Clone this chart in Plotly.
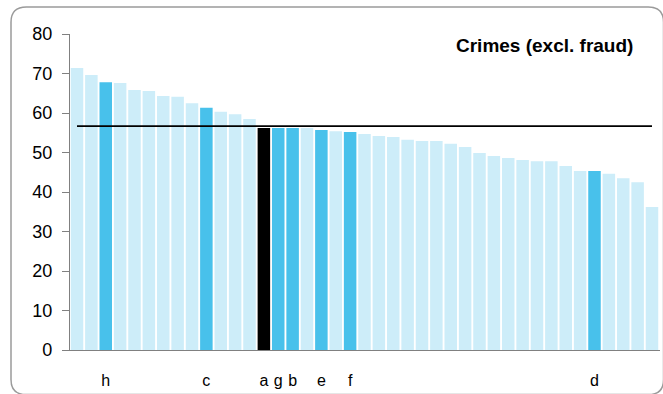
import plotly.graph_objects as go

# bar values, sorted descending
values = [71.4, 69.6, 67.8, 67.6, 65.8, 65.6, 64.3, 64.1, 62.5, 61.3,
          60.3, 59.7, 58.5, 56.2, 56.2, 56.2, 56.2, 55.7, 55.4, 55.2,
          54.7, 54.2, 53.9, 53.2, 52.9, 52.9, 52.2, 51.4, 49.9, 49.1,
          48.6, 48.1, 47.8, 47.8, 46.6, 45.3, 45.3, 44.6, 43.5, 42.5,
          36.2]
# group per bar: 0 = other, 1 = highlighted, 2 = reference country
groups = [0, 0, 1, 0, 0, 0, 0, 0, 0, 1,
          0, 0, 0, 2, 1, 1, 0, 1, 0, 1,
          0, 0, 0, 0, 0, 0, 0, 0, 0, 0,
          0, 0, 0, 0, 0, 0, 1, 0, 0, 0,
          0]
labels = ["", "", "h", "", "", "", "", "", "", "c",
          "", "", "", "a", "g", "b", "", "e", "", "f",
          "", "", "", "", "", "", "", "", "", "",
          "", "", "", "", "", "", "d", "", "", "",
          ""]
average = 56.7
title = "Crimes (excl. fraud)"

palette = {0: "#CDEDF9", 1: "#48C1EB", 2: "#000000"}
xs = list(range(len(values)))

fig = go.Figure()
fig.add_trace(go.Bar(
    x=xs, y=values,
    marker_color=[palette[g] for g in groups],
    marker_line_width=0,
    hoverinfo="y",
))

# average line across the bars
fig.add_shape(type="line", xref="x", yref="y",
              x0=xs[0], x1=xs[-1], y0=average, y1=average,
              line=dict(color="black", width=1.8))

# rounded outer frame (paper coords; plot area is 590 x 316 px)
fx0, fx1 = -0.1, 1.006
fy0, fy1 = -0.141, 1.0854
rx, ry = 0.026, 0.048
frame = (f"M {fx0 + rx},{fy1} L {fx1 - rx},{fy1} Q {fx1},{fy1} {fx1},{fy1 - ry} "
         f"L {fx1},{fy0 + ry} Q {fx1},{fy0} {fx1 - rx},{fy0} "
         f"L {fx0 + rx},{fy0} Q {fx0},{fy0} {fx0},{fy0 + ry} "
         f"L {fx0},{fy1 - ry} Q {fx0},{fy1} {fx0 + rx},{fy1} Z")
fig.add_shape(type="path", xref="paper", yref="paper", path=frame,
              line=dict(color="#9A9A9A", width=1.5))

fig.add_annotation(text=f"<b>{title}</b>", xref="paper", yref="paper",
                   x=0.958, y=0.965, xanchor="right", yanchor="middle",
                   showarrow=False, font=dict(size=19, color="black"))

fig.update_layout(
    width=663, height=394,
    margin=dict(l=70, r=3, t=34, b=44),
    paper_bgcolor="white", plot_bgcolor="white",
    font=dict(family="Liberation Sans, Arial", color="black"),
    bargap=0.13,
    showlegend=False,
    xaxis=dict(
        range=[-0.487, 40.557],
        tickvals=[i for i, l in enumerate(labels) if l],
        ticktext=[l for l in labels if l],
        showline=True, linecolor="#808080", linewidth=1.2,
        ticks="", showgrid=False, zeroline=False,
        ticklabelstandoff=16,
        tickfont=dict(size=16), fixedrange=True,
    ),
    yaxis=dict(
        range=[0, 80], dtick=10,
        showline=True, linecolor="#808080", linewidth=1.2,
        ticks="outside", ticklen=7, tickcolor="#808080",
        showgrid=False, zeroline=False,
        ticklabelstandoff=6,
        tickfont=dict(size=18), fixedrange=True,
    ),
)

# drop the default page margin so the figure fills the window exactly
fig.write_html("out.html", config={"displayModeBar": False},
               post_script="document.body.style.margin = '0';")
